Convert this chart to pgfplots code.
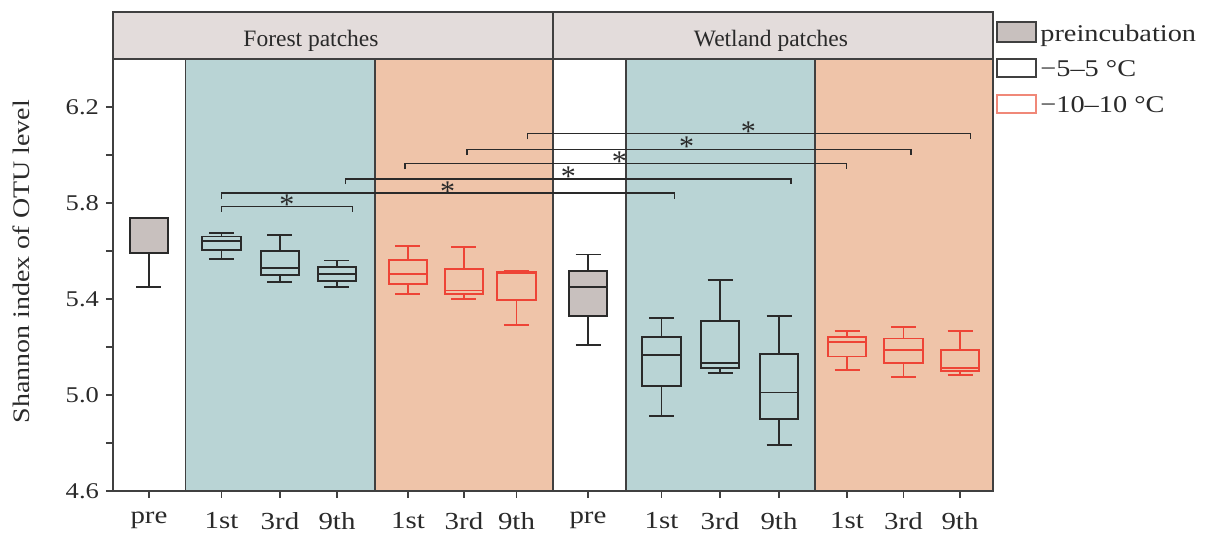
\documentclass[border=0pt]{standalone}
\usepackage{fontspec}
\setmainfont{Liberation Serif}
\newfontfamily\widefont[FakeStretch=1.18]{Liberation Serif}
\usepackage{pgfplots}
\pgfplotsset{compat=1.18}
\usepgfplotslibrary{statistics}

\definecolor{bandA}{HTML}{B9D4D5}
\definecolor{bandB}{HTML}{EFC4A9}
\definecolor{stripfill}{HTML}{E3DCDB}
\definecolor{prefill}{HTML}{C8C0BE}
\definecolor{frame}{HTML}{404040}
\definecolor{lineK}{HTML}{2A2A2A}
\definecolor{lineR}{HTML}{EE4436}
\definecolor{legR}{HTML}{F08878}

% one box: position, lower whisker, Q1, median, Q3, upper whisker
\pgfplotsset{
  bx/.style n args={6}{boxplot prepared={draw position=#1,
      lower whisker=#2, lower quartile=#3, median=#4,
      upper quartile=#5, upper whisker=#6,
      box extend=3.85, whisker extend=2.5, draw direction=y},
      line width=0.9pt},
}

\begin{document}
\begin{tikzpicture}
\useasboundingbox (-56.5pt,-21.5pt) rectangle (549.5pt,245.5pt);
\begin{axis}[
  at={(0,0)}, anchor=south west,
  scale only axis, width=440pt, height=216pt,
  xmin=0, xmax=88, ymin=4.6, ymax=6.4,
  clip=false, axis on top,
  axis line style={draw=frame, line width=0.8pt},
  every tick/.style={draw=frame, line width=0.8pt},
  tick align=outside,
  major tick length=3.5pt, minor tick length=3.5pt,
  xtick pos=bottom, ytick pos=left,
  xtick={3.6,10.85,16.7,22.4,29.5,35.1,40.35,47.5,54.85,60.7,66.6,73.4,79.05,84.7},
  xticklabels={pre,1st,3rd,9th,1st,3rd,9th,pre,1st,3rd,9th,1st,3rd,9th},
  ytick={4.6,5.0,5.4,5.8,6.2},
  minor ytick={4.8,5.2,5.6,6.0},
  /pgf/number format/assume math mode=true,
  yticklabel={\pgfmathprintnumber[fixed,fixed zerofill,precision=1]{\tick}},
  yticklabel style={font=\widefont\fontsize{11.25}{13}\selectfont, text=lineK},
  xticklabel style={font=\widefont\fontsize{12.25}{14}\selectfont, text=lineK, yshift=-3.5pt},
]

% background bands
\fill[bandA] (axis cs:7.27,4.6) rectangle (axis cs:26.2,6.4);
\fill[bandB] (axis cs:26.2,4.6) rectangle (axis cs:44,6.4);
\fill[bandA] (axis cs:51.27,4.6) rectangle (axis cs:70.2,6.4);
\fill[bandB] (axis cs:70.2,4.6) rectangle (axis cs:88,6.4);
\draw[frame, line width=0.8pt] (axis cs:7.27,4.6) -- (axis cs:7.27,6.4);
\draw[frame, line width=0.8pt] (axis cs:26.2,4.6) -- (axis cs:26.2,6.4);
\draw[frame, line width=0.8pt] (axis cs:44,4.6) -- (axis cs:44,6.4);
\draw[frame, line width=0.8pt] (axis cs:51.27,4.6) -- (axis cs:51.27,6.4);
\draw[frame, line width=0.8pt] (axis cs:70.2,4.6) -- (axis cs:70.2,6.4);

% panel headers
\filldraw[fill=stripfill, draw=frame, line width=0.8pt]
  (axis cs:0,6.4) rectangle (axis cs:44,6.596);
\filldraw[fill=stripfill, draw=frame, line width=0.8pt]
  (axis cs:44,6.4) rectangle (axis cs:88,6.596);
\node[anchor=base, text=lineK, font=\fontsize{11.75}{13}\selectfont]
  at (axis cs:19.8,6.4513) {Forest patches};
\node[anchor=base, text=lineK, font=\fontsize{11.75}{13}\selectfont]
  at (axis cs:65.8,6.4513) {Wetland patches};

% Forest patches
\addplot[bx={3.6}{5.451}{5.590}{5.735}{5.736}{5.736}, draw=lineK, fill=prefill] coordinates {};
\addplot[bx={10.85}{5.568}{5.604}{5.642}{5.660}{5.676}, draw=lineK] coordinates {};
\addplot[bx={16.7}{5.470}{5.500}{5.528}{5.600}{5.668}, draw=lineK] coordinates {};
\addplot[bx={22.4}{5.449}{5.475}{5.504}{5.532}{5.560}, draw=lineK] coordinates {};
\addplot[bx={29.5}{5.421}{5.4625}{5.504}{5.561}{5.621}, draw=lineR] coordinates {};
\addplot[bx={35.1}{5.400}{5.420}{5.435}{5.525}{5.618}, draw=lineR] coordinates {};
\addplot[bx={40.35}{5.290}{5.396}{5.508}{5.512}{5.518}, draw=lineR] coordinates {};

% Wetland patches
\addplot[bx={47.5}{5.207}{5.329}{5.449}{5.515}{5.585}, draw=lineK, fill=prefill] coordinates {};
\addplot[bx={54.85}{4.9125}{5.039}{5.165}{5.242}{5.320}, draw=lineK] coordinates {};
\addplot[bx={60.7}{5.093}{5.1125}{5.132}{5.307}{5.480}, draw=lineK] coordinates {};
\addplot[bx={66.6}{4.790}{4.901}{5.010}{5.171}{5.329}, draw=lineK] coordinates {};
\addplot[bx={73.4}{5.104}{5.160}{5.220}{5.243}{5.268}, draw=lineR] coordinates {};
\addplot[bx={79.05}{5.076}{5.132}{5.1875}{5.235}{5.283}, draw=lineR] coordinates {};
\addplot[bx={84.7}{5.083}{5.099}{5.1125}{5.1875}{5.265}, draw=lineR] coordinates {};

% significance brackets
\begin{scope}[draw=lineK, line width=0.75pt]
\draw (axis cs:10.87,5.7625) -- (axis cs:10.87,5.786) -- (axis cs:23.93,5.786) -- (axis cs:23.93,5.7625);
\draw (axis cs:10.87,5.8167) -- (axis cs:10.87,5.8417) -- (axis cs:56.13,5.8417) -- (axis cs:56.13,5.8167);
\draw (axis cs:23.27,5.879) -- (axis cs:23.27,5.901) -- (axis cs:67.8,5.901) -- (axis cs:67.8,5.879);
\draw (axis cs:29.2,5.940) -- (axis cs:29.2,5.965) -- (axis cs:73.37,5.965) -- (axis cs:73.37,5.940);
\draw (axis cs:35.4,5.999) -- (axis cs:35.4,6.022) -- (axis cs:79.8,6.022) -- (axis cs:79.8,5.999);
\draw (axis cs:41.47,6.065) -- (axis cs:41.47,6.090) -- (axis cs:85.77,6.090) -- (axis cs:85.77,6.065);
\end{scope}
\begin{scope}[every node/.style={anchor=base, inner sep=0pt, text=lineK,
    font=\fontsize{15}{16}\selectfont}]
\node at (axis cs:17.4,5.752) {*};
\node at (axis cs:33.47,5.805) {*};
\node at (axis cs:45.53,5.870) {*};
\node at (axis cs:50.63,5.933) {*};
\node at (axis cs:57.37,5.995) {*};
\node at (axis cs:63.53,6.058) {*};
\end{scope}

% y label
\node[rotate=90, anchor=base, text=lineK, font=\widefont\fontsize{11.85}{13}\selectfont]
  at (axis cs:-8.3,5.556) {Shannon index of OTU level};

% legend
\filldraw[fill=prefill, draw=frame, line width=0.8pt]
  (axis cs:88.4,6.554) rectangle (axis cs:92.3,6.4708);
\filldraw[fill=white, draw=frame, line width=0.8pt]
  (axis cs:88.4,6.4) rectangle (axis cs:92.3,6.325);
\filldraw[fill=white, draw=legR, line width=0.8pt]
  (axis cs:88.4,6.25) rectangle (axis cs:92.3,6.175);
\begin{scope}[every node/.style={anchor=base west, inner sep=0pt, text=lineK,
    font=\widefont\fontsize{12}{14}\selectfont}]
\node at (axis cs:92.7,6.4721) {preincubation};
\node at (axis cs:92.7,6.3263) {−5–5 °C};
\node at (axis cs:92.7,6.1763) {−10–10 °C};
\end{scope}
\end{axis}
\end{tikzpicture}
\end{document}
